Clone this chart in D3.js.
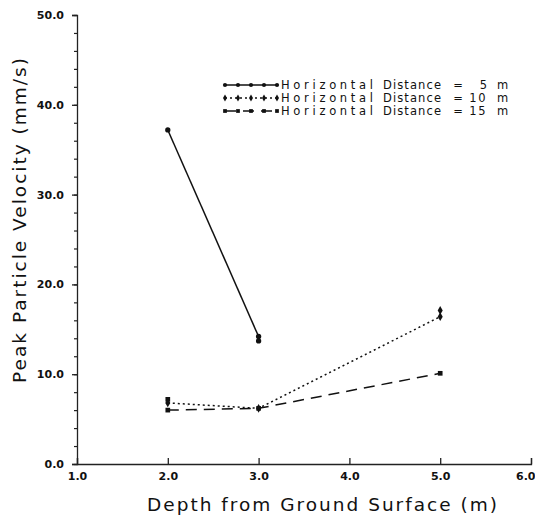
<!DOCTYPE html>
<html>
<head>
<meta charset="utf-8">
<script src="https://cdn.jsdelivr.net/npm/d3@7"></script>
<style>
  body { margin: 0; background: #fff; }
  text { font-family: "DejaVu Sans", sans-serif; fill: #111; }
</style>
</head>
<body>
<svg id="chart" width="535" height="517"></svg>
<script>
// Data
const depths = [2.0, 3.0, 5.0];
const ppv5m = [37.2, 14.2, null];
const ppv10m = [6.8, 6.2, 16.4];
const ppv15m = [6.0, 6.2, 10.1];
// second readings plotted at the same depth
const repeat5m = [[3.0, 13.7]];
const repeat10m = [[5.0, 17.1]];
const repeat15m = [[2.0, 7.2]];
const legendDistances = ["5", "10", "15"];
const xTicks = [1, 2, 3, 4, 5, 6];
const yTicks = [0, 10, 20, 30, 40, 50];

const margin = { top: 15, right: 4, bottom: 53, left: 77 };
const width = 535 - margin.left - margin.right;
const height = 517 - margin.top - margin.bottom;

const svg = d3.select("#chart")
    .append("g")
    .attr("transform", `translate(${margin.left}, ${margin.top})`);

const x = d3.scaleLinear().domain([1, 6]).range([0, width]);
const y = d3.scaleLinear().domain([0, 50]).range([height, 0]);

// x axis, ticks pointing up
const xAxis = svg.append("g")
    .attr("transform", `translate(0, ${height})`)
    .call(d3.axisTop(x).tickValues(xTicks).tickSize(6).tickFormat(d3.format(".1f")));
xAxis.select(".domain").attr("stroke", "#222").attr("stroke-width", 1.3);
xAxis.selectAll(".tick line").attr("stroke", "#222").attr("stroke-width", 1.3);
xAxis.selectAll(".tick text")
    .attr("y", 8).attr("dy", "0.71em")
    .style("font-size", "11px").style("font-weight", "bold");
// last label sits against the right edge
xAxis.selectAll(".tick text").filter(d => d === 6)
    .attr("text-anchor", "end").attr("x", 4);

// y axis with minor ticks every 2
svg.append("g")
    .call(d3.axisLeft(y).tickValues(d3.range(0, 51, 2)).tickSize(3).tickFormat(""))
    .call(g => g.select(".domain").remove())
    .selectAll("line").attr("stroke", "#222").attr("stroke-width", 1.2);
const yAxis = svg.append("g")
    .call(d3.axisLeft(y).tickValues(yTicks).tickSize(5).tickFormat(d3.format(".1f")));
yAxis.select(".domain").attr("stroke", "#222").attr("stroke-width", 1.3);
yAxis.selectAll(".tick line").attr("stroke", "#222").attr("stroke-width", 1.3);
yAxis.selectAll(".tick text")
    .attr("x", -13)
    .style("font-size", "11px").style("font-weight", "bold");

// axis titles
svg.append("text")
    .attr("x", width / 2 + 19)
    .attr("y", height + 47)
    .attr("text-anchor", "middle")
    .style("font-size", "18.5px")
    .style("letter-spacing", "2px")
    .text("Depth from Ground Surface (m)");

svg.append("text")
    .attr("transform", `translate(${-51}, ${y(25) - 20}) rotate(-90)`)
    .attr("text-anchor", "middle")
    .style("font-size", "18.5px")
    .style("letter-spacing", "2px")
    .text("Peak Particle Velocity (mm/s)");

const seriesList = [
    { values: ppv5m, extra: repeat5m, dash: null, marker: d3.symbolCircle },
    { values: ppv10m, extra: repeat10m, dash: "2,3", marker: d3.symbolDiamond },
    { values: ppv15m, extra: repeat15m, dash: "11,7", marker: d3.symbolSquare }
];

const line = d3.line()
    .defined(d => d[1] !== null)
    .x(d => x(d[0]))
    .y(d => y(d[1]));

seriesList.forEach(s => {
    const pts = depths.map((d, i) => [d, s.values[i]]);
    svg.append("path")
        .datum(pts)
        .attr("fill", "none")
        .attr("stroke", "#111")
        .attr("stroke-width", 1.5)
        .attr("stroke-dasharray", s.dash)
        .attr("d", line);

    const marks = pts.filter(p => p[1] !== null).concat(s.extra);
    svg.selectAll(null)
        .data(marks)
        .enter()
        .append("path")
        .attr("d", d3.symbol().type(s.marker).size(22))
        .attr("transform", d => `translate(${x(d[0])}, ${y(d[1])})`)
        .attr("fill", "#111");
});

// legend
const legend = svg.append("g").attr("transform", `translate(${225 - margin.left}, ${85 - margin.top})`);
seriesList.forEach((s, i) => {
    const row = legend.append("g").attr("transform", `translate(0, ${i * 13})`);
    row.append("line")
        .attr("x1", 0).attr("x2", 52)
        .attr("stroke", "#111").attr("stroke-width", 1.5)
        .attr("stroke-dasharray", s.dash);
    row.selectAll(null)
        .data(d3.range(0, 53, 13))
        .enter()
        .append("path")
        .attr("d", d3.symbol().type(s.marker).size(14))
        .attr("transform", d => `translate(${d}, 0)`)
        .attr("fill", "#111");
    const parts = [
        { t: "Horizontal", x: 56, anchor: "start", len: 92 },
        { t: "Distance", x: 158, anchor: "start", len: 58 },
        { t: "=", x: 233, anchor: "middle", len: null },
        { t: legendDistances[i], x: 262, anchor: "end", len: null },
        { t: "m", x: 272, anchor: "start", len: null }
    ];
    row.selectAll(null)
        .data(parts)
        .enter()
        .append("text")
        .attr("x", d => d.x)
        .attr("dy", "0.35em")
        .attr("text-anchor", d => d.anchor)
        .attr("textLength", d => d.len)
        .attr("lengthAdjust", d => d.len ? "spacing" : null)
        .style("font-size", "11.5px")
        .style("letter-spacing", d => d.t.length > 1 && !d.len ? "1.5px" : null)
        .text(d => d.t);
});
</script>
</body>
</html>
